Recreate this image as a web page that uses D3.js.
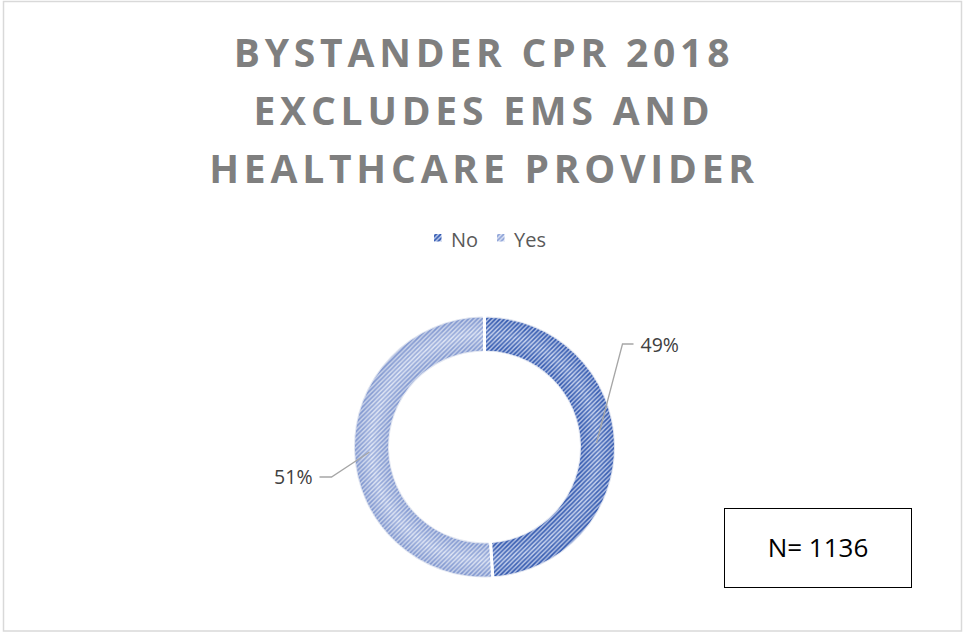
<!DOCTYPE html>
<html>
<head>
<meta charset="utf-8">
<script src="https://cdn.jsdelivr.net/npm/d3@7/dist/d3.min.js"></script>
<style>
  html, body { margin: 0; padding: 0; background: #fff; }
  svg { display: block; }
</style>
</head>
<body>
<svg id="chart" width="964" height="633"></svg>
<script>
const categories = ["No", "Yes"];
const values = [49, 51];
const labels = ["49%", "51%"];
const titleLines = ["BYSTANDER CPR 2018", "EXCLUDES EMS AND", "HEALTHCARE PROVIDER"];
const sampleNote = "N= 1136";

const W = 964, H = 633;
const svg = d3.select("#chart");
const defs = svg.append("defs");

// frame
svg.append("rect").attr("x", 3.5).attr("y", 1.5).attr("width", 958).attr("height", 629.5)
  .attr("fill", "#fff").attr("stroke", "#d9d9d9").attr("stroke-width", 1.5);

// patterns
const patternSpec = [
  { id: "patNo", bg: "#c2cfed", fg: "#2a53ae" },
  { id: "patYes", bg: "#dde4f4", fg: "#899fd6" }
];
patternSpec.forEach(p => {
  const pat = defs.append("pattern").attr("id", p.id).attr("patternUnits", "userSpaceOnUse")
    .attr("width", 4.5).attr("height", 4.5);
  pat.append("rect").attr("width", 4.5).attr("height", 4.5).attr("fill", p.bg);
  pat.append("path").attr("d", "M-1,1 L1,-1 M0,4.5 L4.5,0 M3.5,5.5 L5.5,3.5")
    .attr("stroke", p.fg).attr("stroke-width", 1.6);
});

const cx = 484.5, cy = 447, rOut = 131, rIn = 95;

const color = d3.scaleOrdinal().domain(categories).range(["url(#patNo)", "url(#patYes)"]);
const pie = d3.pie().sort(null).value(d => d.v);
const data = pie(categories.map((c, i) => ({ c, v: values[i], label: labels[i] })));
const arc = d3.arc().innerRadius(rIn).outerRadius(rOut);

const g = svg.append("g").attr("transform", `translate(${cx},${cy})`);
g.selectAll("path.slice").data(data).join("path").attr("class", "slice")
  .attr("d", arc).attr("fill", d => color(d.data.c))
  .attr("stroke", "#fff").attr("stroke-width", 3);

// shading overlay (darker at ring edges, lighter in middle)
const rg2 = defs.append("radialGradient").attr("id", "shade2").attr("gradientUnits", "userSpaceOnUse")
  .attr("cx", 0).attr("cy", 0).attr("r", rOut);
[[rIn / rOut, "#2a4a9a", 0.14], [(rIn + rOut) / 2 / rOut, "#ffffff", 0.18], [1, "#2a4a9a", 0.16]]
  .forEach(s => rg2.append("stop").attr("offset", s[0]).attr("stop-color", s[1]).attr("stop-opacity", s[2]));
g.selectAll("path.shade").data(data).join("path").attr("class", "shade")
  .attr("d", d3.arc().innerRadius(rIn + 0.5).outerRadius(rOut - 0.5).padAngle(0.024))
  .attr("fill", "url(#shade2)");

// leader lines and labels
const leaderPts = [
  [[cx + 112, cy - 4], [cx + 138, cy - 103], [cx + 149, cy - 103]],
  [[cx - 115, cy + 5], [cx - 153, cy + 30], [cx - 165, cy + 30]]
];
svg.append("g").selectAll("path").data(leaderPts).join("path")
  .attr("d", d => d3.line()(d)).attr("fill", "none").attr("stroke", "#a6a6a6").attr("stroke-width", 1.3);
const lblPos = [{ x: cx + 156, y: cy - 102, a: "start" }, { x: cx - 172, y: cy + 30, a: "end" }];
svg.append("g").selectAll("text").data(data).join("text")
  .attr("x", (d, i) => lblPos[i].x).attr("y", (d, i) => lblPos[i].y).attr("dy", "0.35em")
  .attr("text-anchor", (d, i) => lblPos[i].a)
  .attr("font-family", "'Open Sans', 'Noto Sans', sans-serif").attr("font-size", 19.5).attr("fill", "#404040")
  .text(d => d.data.label);

// title
svg.append("g").selectAll("text").data(titleLines).join("text")
  .attr("x", 484).attr("y", (d, i) => 67 + i * 58).attr("text-anchor", "middle")
  .attr("font-family", "'Open Sans', 'Noto Sans', sans-serif").attr("font-weight", "bold")
  .attr("font-size", 39).attr("letter-spacing", "4.8px").attr("fill", "#7f7f7f")
  .text(d => d);

// legend
const legend = svg.append("g");
const legX = [434, 497];
categories.forEach((c, i) => {
  legend.append("rect").attr("x", legX[i]).attr("y", 234).attr("width", 7.5).attr("height", 7.5)
    .attr("fill", color(c));
  legend.append("text").attr("x", legX[i] + 17).attr("y", 239.5).attr("dy", "0.35em")
    .attr("font-family", "'Open Sans', 'Noto Sans', sans-serif").attr("font-size", 20).attr("fill", "#595959")
    .text(c);
});

// N box
svg.append("rect").attr("x", 724.5).attr("y", 508.5).attr("width", 187).attr("height", 79)
  .attr("fill", "#fff").attr("stroke", "#000").attr("stroke-width", 1);
svg.append("text").attr("x", 818).attr("y", 548).attr("dy", "0.35em").attr("text-anchor", "middle")
  .attr("font-family", "'Open Sans', 'Noto Sans', sans-serif").attr("font-size", 26).attr("fill", "#000")
  .text(sampleNote);
</script>
</body>
</html>
